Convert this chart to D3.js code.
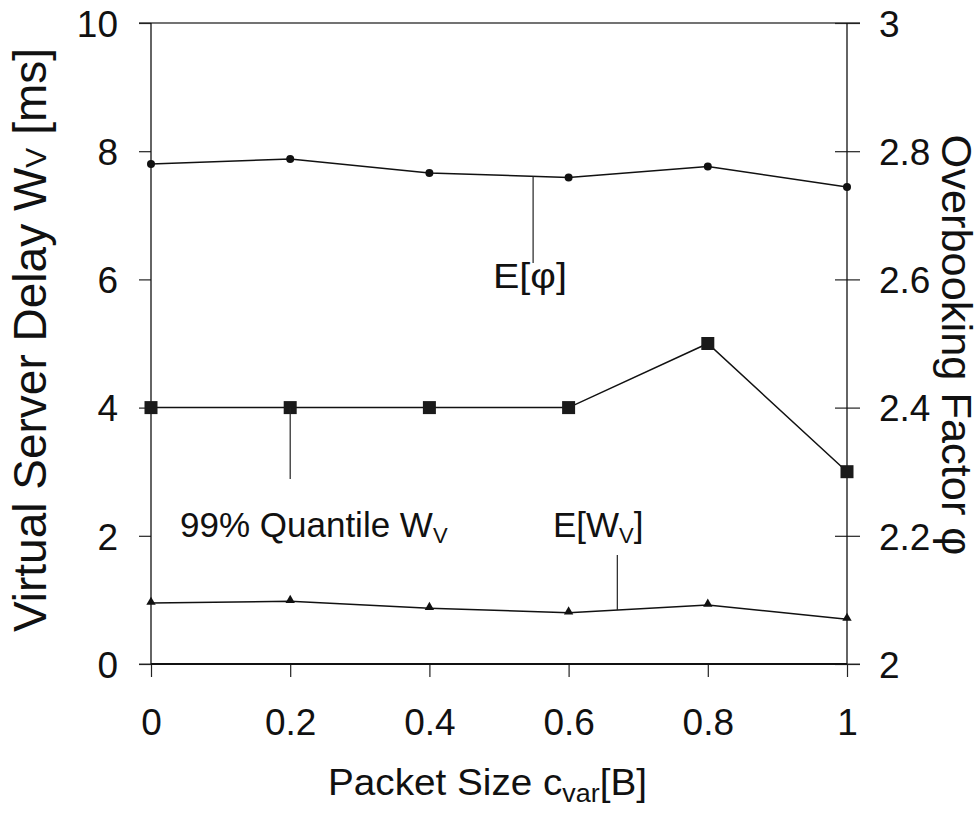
<!DOCTYPE html>
<html><head><meta charset="utf-8">
<script src="https://cdn.jsdelivr.net/npm/d3@7"></script>
<style>body{margin:0;background:#fff}text{font-family:"Liberation Sans",Arial,sans-serif;fill:#111}</style>
</head><body><svg id="c" width="980" height="821"></svg>
<script>
const xValues = [0, 0.2, 0.4, 0.6, 0.8, 1];
const xTicks = [0, 0.2, 0.4, 0.6, 0.8, 1];
const yLeftTicks = [0, 2, 4, 6, 8, 10];
const yRightTicks = [2, 2.2, 2.4, 2.6, 2.8, 3];
const quantileWv = [4, 4, 4, 4, 5, 3];          // ms, left axis
const meanWv = [0.95, 0.98, 0.87, 0.80, 0.92, 0.70]; // ms, left axis
const meanPhi = [2.780, 2.788, 2.766, 2.759, 2.776, 2.744]; // right axis

const svg = d3.select("#c");
const L = 151, R = 847, T = 23, B = 664;
const x = d3.scaleLinear().domain([0, 1]).range([L, R]);
const yL = d3.scaleLinear().domain([0, 10]).range([B, T]);
const yR = d3.scaleLinear().domain([2, 3]).range([B, T]);
const FS = 37;

// top gridline
svg.append("line").attr("x1", 139).attr("x2", 860).attr("y1", yL(10)).attr("y2", yL(10)).attr("stroke", "#444").attr("stroke-width", 1.3);
// bottom stubs gray
svg.append("line").attr("x1", 139).attr("x2", 860).attr("y1", B).attr("y2", B).attr("stroke", "#888").attr("stroke-width", 1.3);

// left axis
const gL = svg.append("g").attr("transform", `translate(${L},0)`)
  .call(d3.axisLeft(yL).tickValues(yLeftTicks).tickSize(12).tickPadding(21).tickFormat(d3.format("d")));
// right axis
const gR = svg.append("g").attr("transform", `translate(${R},0)`)
  .call(d3.axisRight(yR).tickValues(yRightTicks).tickSize(13).tickPadding(19).tickFormat(d => d === 2 || d === 3 ? String(d) : d3.format(".1f")(d)));
gR.selectAll(".tick line").attr("x1", -12);
// bottom axis
const gB = svg.append("g").attr("transform", `translate(0,${B})`)
  .call(d3.axisBottom(x).tickValues(xTicks).tickSize(13).tickPadding(32).tickFormat(d => d === 0 || d === 1 ? String(d) : d3.format(".1f")(d)));
[gL, gR, gB].forEach(g => {
  g.select(".domain").remove();
  g.selectAll(".tick line").attr("stroke", "#222").attr("stroke-width", 1.2);
  g.selectAll(".tick text").attr("font-size", FS).attr("font-family", "Liberation Sans, Arial, sans-serif").attr("fill", "#111");
});
gL.selectAll(".tick text").attr("dy", "0.36em");
gR.selectAll(".tick text").attr("dy", "0.36em");
// axis lines
svg.append("line").attr("x1", L).attr("x2", L).attr("y1", T).attr("y2", B).attr("stroke", "#111").attr("stroke-width", 1.3);
svg.append("line").attr("x1", R).attr("x2", R).attr("y1", T).attr("y2", B).attr("stroke", "#111").attr("stroke-width", 1.3);
svg.append("line").attr("x1", L).attr("x2", R).attr("y1", B).attr("y2", B).attr("stroke", "#111").attr("stroke-width", 2.2);

// lines
const lineL = d3.line().x((d, i) => x(xValues[i])).y(d => yL(d));
const lineR = d3.line().x((d, i) => x(xValues[i])).y(d => yR(d));
svg.append("path").attr("d", lineR(meanPhi)).attr("fill", "none").attr("stroke", "#111").attr("stroke-width", 1.5);
svg.append("path").attr("d", lineL(quantileWv)).attr("fill", "none").attr("stroke", "#111").attr("stroke-width", 1.5);
svg.append("path").attr("d", lineL(meanWv)).attr("fill", "none").attr("stroke", "#111").attr("stroke-width", 1.5);

// markers
svg.selectAll(".phi").data(meanPhi).join("circle").attr("cx", (d, i) => x(xValues[i])).attr("cy", d => yR(d)).attr("r", 4).attr("fill", "#111");
svg.selectAll(".q").data(quantileWv).join("rect").attr("x", (d, i) => x(xValues[i]) - 6.5).attr("y", d => yL(d) - 6.5).attr("width", 13).attr("height", 13).attr("fill", "#1a1a1a");
const tri = d3.symbol().type(d3.symbolTriangle).size(38);
svg.selectAll(".t").data(meanWv).join("path").attr("d", tri).attr("transform", (d, i) => `translate(${x(xValues[i])},${yL(d) - 1})`).attr("fill", "#111");

// annotation leader lines
function interp(arr, xv, sc) {
  const i = Math.min(Math.floor(xv / 0.2), arr.length - 2);
  const t = (xv - xValues[i]) / 0.2;
  return sc(arr[i] + (arr[i + 1] - arr[i]) * t);
}
const phiX = 0.549, qX = 0.2, wX = 0.67;
svg.append("line").attr("x1", x(phiX)).attr("x2", x(phiX)).attr("y1", interp(meanPhi, phiX, yR)).attr("y2", 263).attr("stroke", "#222").attr("stroke-width", 1.2);
svg.append("line").attr("x1", x(qX)).attr("x2", x(qX)).attr("y1", yL(4)).attr("y2", 479).attr("stroke", "#222").attr("stroke-width", 1.2);
svg.append("line").attr("x1", x(wX)).attr("x2", x(wX)).attr("y1", interp(meanWv, wX, yL)).attr("y2", 555).attr("stroke", "#222").attr("stroke-width", 1.2);

// annotation labels
const AF = 35;
svg.append("text").attr("x", 493).attr("y", 288).attr("font-size", AF).attr("textLength", 74).attr("lengthAdjust", "spacingAndGlyphs").text("E[φ]");
const q = svg.append("text").attr("x", 180).attr("y", 537).attr("font-size", AF);
q.append("tspan").text("99% Quantile W");
q.append("tspan").attr("font-size", 22).attr("dy", 6).text("V");
const w = svg.append("text").attr("x", 553).attr("y", 537).attr("font-size", AF);
w.append("tspan").text("E[W");
w.append("tspan").attr("font-size", 22).attr("dy", 6).text("V");
w.append("tspan").attr("dy", -6).text("]");

// axis titles
const lt = svg.append("text").attr("transform", `translate(46,${340}) rotate(-90)`).attr("text-anchor", "middle").attr("font-size", 46);
lt.append("tspan").text("Virtual Server Delay W");
lt.append("tspan").attr("font-size", 30).text("V");
lt.append("tspan").text(" [ms]");
svg.append("text").attr("transform", `translate(942,${345}) rotate(90)`).attr("text-anchor", "middle").attr("font-size", 42).attr("textLength", 421).attr("lengthAdjust", "spacingAndGlyphs").text("Overbooking Factor φ");
const xt = svg.append("text").attr("x", 328).attr("y", 795).attr("font-size", 36).attr("textLength", 319).attr("lengthAdjust", "spacingAndGlyphs");
xt.append("tspan").text("Packet Size c");
xt.append("tspan").attr("font-size", 25).attr("dy", 7).text("var");
xt.append("tspan").attr("dy", -7).text("[B]");
</script></body></html>
